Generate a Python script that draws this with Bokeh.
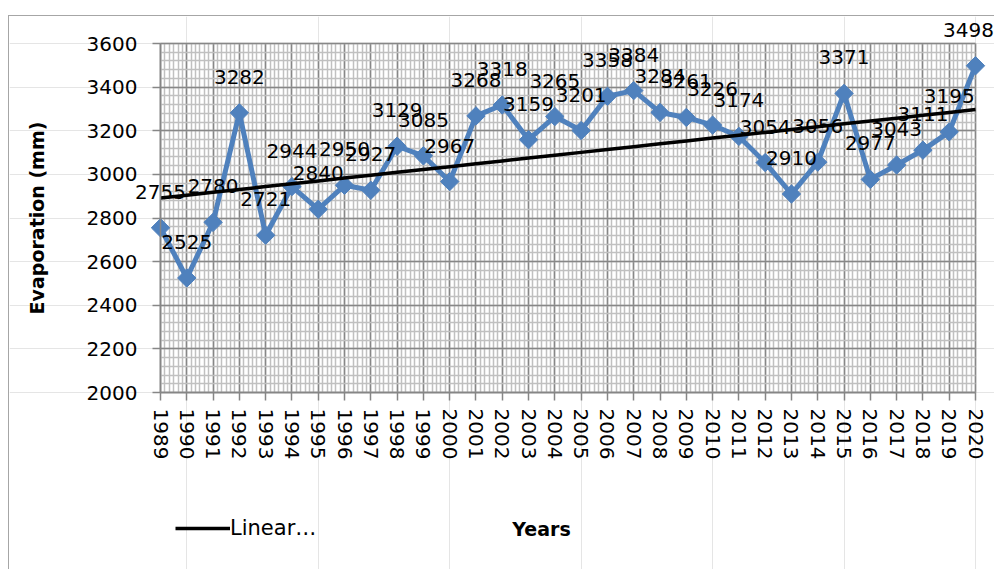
import numpy as np
from bokeh.plotting import figure
from bokeh.models import (FixedTicker, Legend, LegendItem, ColumnDataSource, Label,
                          LabelSet, LinearAxis, Grid, Range1d)
from bokeh.embed import file_html
from bokeh.resources import INLINE
from bokeh.core.properties import value

years = list(range(1989, 2021))
evaporation = [2755, 2525, 2780, 3282, 2721, 2944, 2840, 2950, 2927, 3129,
               3085, 2967, 3268, 3318, 3159, 3265, 3201, 3358, 3384, 3284,
               3261, 3226, 3174, 3054, 2910, 3056, 3371, 2977, 3043, 3111,
               3195, 3498]
y_ticks = list(range(2000, 3601, 200))
y_title = "Evaporation (mm)"
x_title = "Years"
legend_label = "Linear\u2026"

slope, intercept = np.polyfit(years, evaporation, 1)
trend = [slope * yr + intercept for yr in years]

FONT = "DejaVu Sans"
BLUE = "#4F81BD"
AXIS_GREY = "#868686"

# ---- layout: the frame covers the whole figure; the gridded plot area sits inside it
W, H = 986, 554
PL, PR, PT, PB = 151, 966, 27, 376      # plot-area edges inside the figure (px)
x0, x1 = years[0], years[-1]
y0, y1 = y_ticks[0], y_ticks[-1]
xs = (x1 - x0) / (PR - PL)
ys = (y1 - y0) / (PB - PT)
x_range = Range1d(x0 - PL * xs, x1 + (W - PR) * xs)
y_range = Range1d(y0 - (H - PB) * ys, y1 + PT * ys)

# data labels are nudged only where they would run past the chart's right edge
label_dx = [0] * (len(years) - 1) + [-7]

src = ColumnDataSource(dict(x=years, y=evaporation, lbl=[str(v) for v in evaporation],
                            t=trend, dx=label_dx))

p = figure(width=W, height=H, x_range=x_range, y_range=y_range,
           x_axis_location=None, y_axis_location=None,
           output_backend="svg", toolbar_location=None, min_border=0)
p.margin = (15, 0, 0, 8)
p.styles = {"border-top": "1px solid #a6a6a6", "border-left": "1px solid #a6a6a6"}
p.outline_line_color = None

x_minor = list(np.arange(x0, x1 + 0.0001, 1 / 6))
y_minor = list(np.arange(y0, y1 + 0.0001, 40))
xticker = FixedTicker(ticks=years, minor_ticks=x_minor)
yticker = FixedTicker(ticks=y_ticks, minor_ticks=y_minor)

for dim, tk, b, cb in ((0, xticker, (x0, x1), (y0, y1)), (1, yticker, (y0, y1), (x0, x1))):
    g = Grid(dimension=dim, ticker=tk, bounds=b, cross_bounds=cb,
             grid_line_color="#878787", grid_line_width=1.5,
             minor_grid_line_color="#c0c0c0", minor_grid_line_width=1.5)
    p.add_layout(g)

xaxis = LinearAxis(fixed_location=y0, bounds=(x0, x1), ticker=xticker,
                   major_label_overrides={yr: str(yr) for yr in years},
                   major_label_orientation="vertical", major_label_standoff=8)
yaxis = LinearAxis(fixed_location=x0, bounds=(y0, y1), ticker=yticker,
                   major_label_standoff=15, axis_label=y_title,
                   axis_label_text_font=FONT, axis_label_text_font_size="19px",
                   axis_label_text_font_style="bold", axis_label_text_color="black",
                   axis_label_standoff=36)
for ax in (xaxis, yaxis):
    ax.axis_line_color = AXIS_GREY
    ax.axis_line_width = 1.5
    ax.major_tick_line_color = AXIS_GREY
    ax.major_tick_line_width = 1.5
    ax.major_tick_out = 8
    ax.major_tick_in = 0
    ax.minor_tick_in = 0
    ax.minor_tick_out = 0
    ax.major_label_text_font = FONT
    ax.major_label_text_font_size = "20px"
    ax.major_label_text_color = "black"
p.add_layout(xaxis, "below")
p.add_layout(yaxis, "left")

p.line("x", "y", source=src, line_color=BLUE, line_width=5)
p.scatter("x", "y", source=src, marker="square", size=13, angle=np.pi / 4,
          fill_color=BLUE, line_color=BLUE)
tr = p.line("x", "t", source=src, line_color="black", line_width=3.5)
p.add_layout(LabelSet(x="x", y="y", text="lbl", source=src, text_font=value(FONT),
                      text_font_size=value("20px"), text_align="center",
                      text_baseline="middle", x_offset="dx", y_offset=36,
                      text_color="black"))

legend = Legend(items=[LegendItem(label=legend_label, renderers=[tr])], location=(166, 30),
                glyph_width=55, glyph_height=24, label_standoff=0, padding=0, margin=0,
                label_text_font=FONT, label_text_font_size="21px", label_height=24,
                label_text_color="black",
                background_fill_alpha=0, border_line_color=None)
p.add_layout(legend, "center")

p.add_layout(Label(x=532, y=42, x_units="screen", y_units="screen", text=x_title,
                   text_font=FONT, text_font_size="19px", text_font_style="bold",
                   text_align="center", text_baseline="middle", text_color="black"))

open("out.html", "w").write(file_html(p, INLINE))
